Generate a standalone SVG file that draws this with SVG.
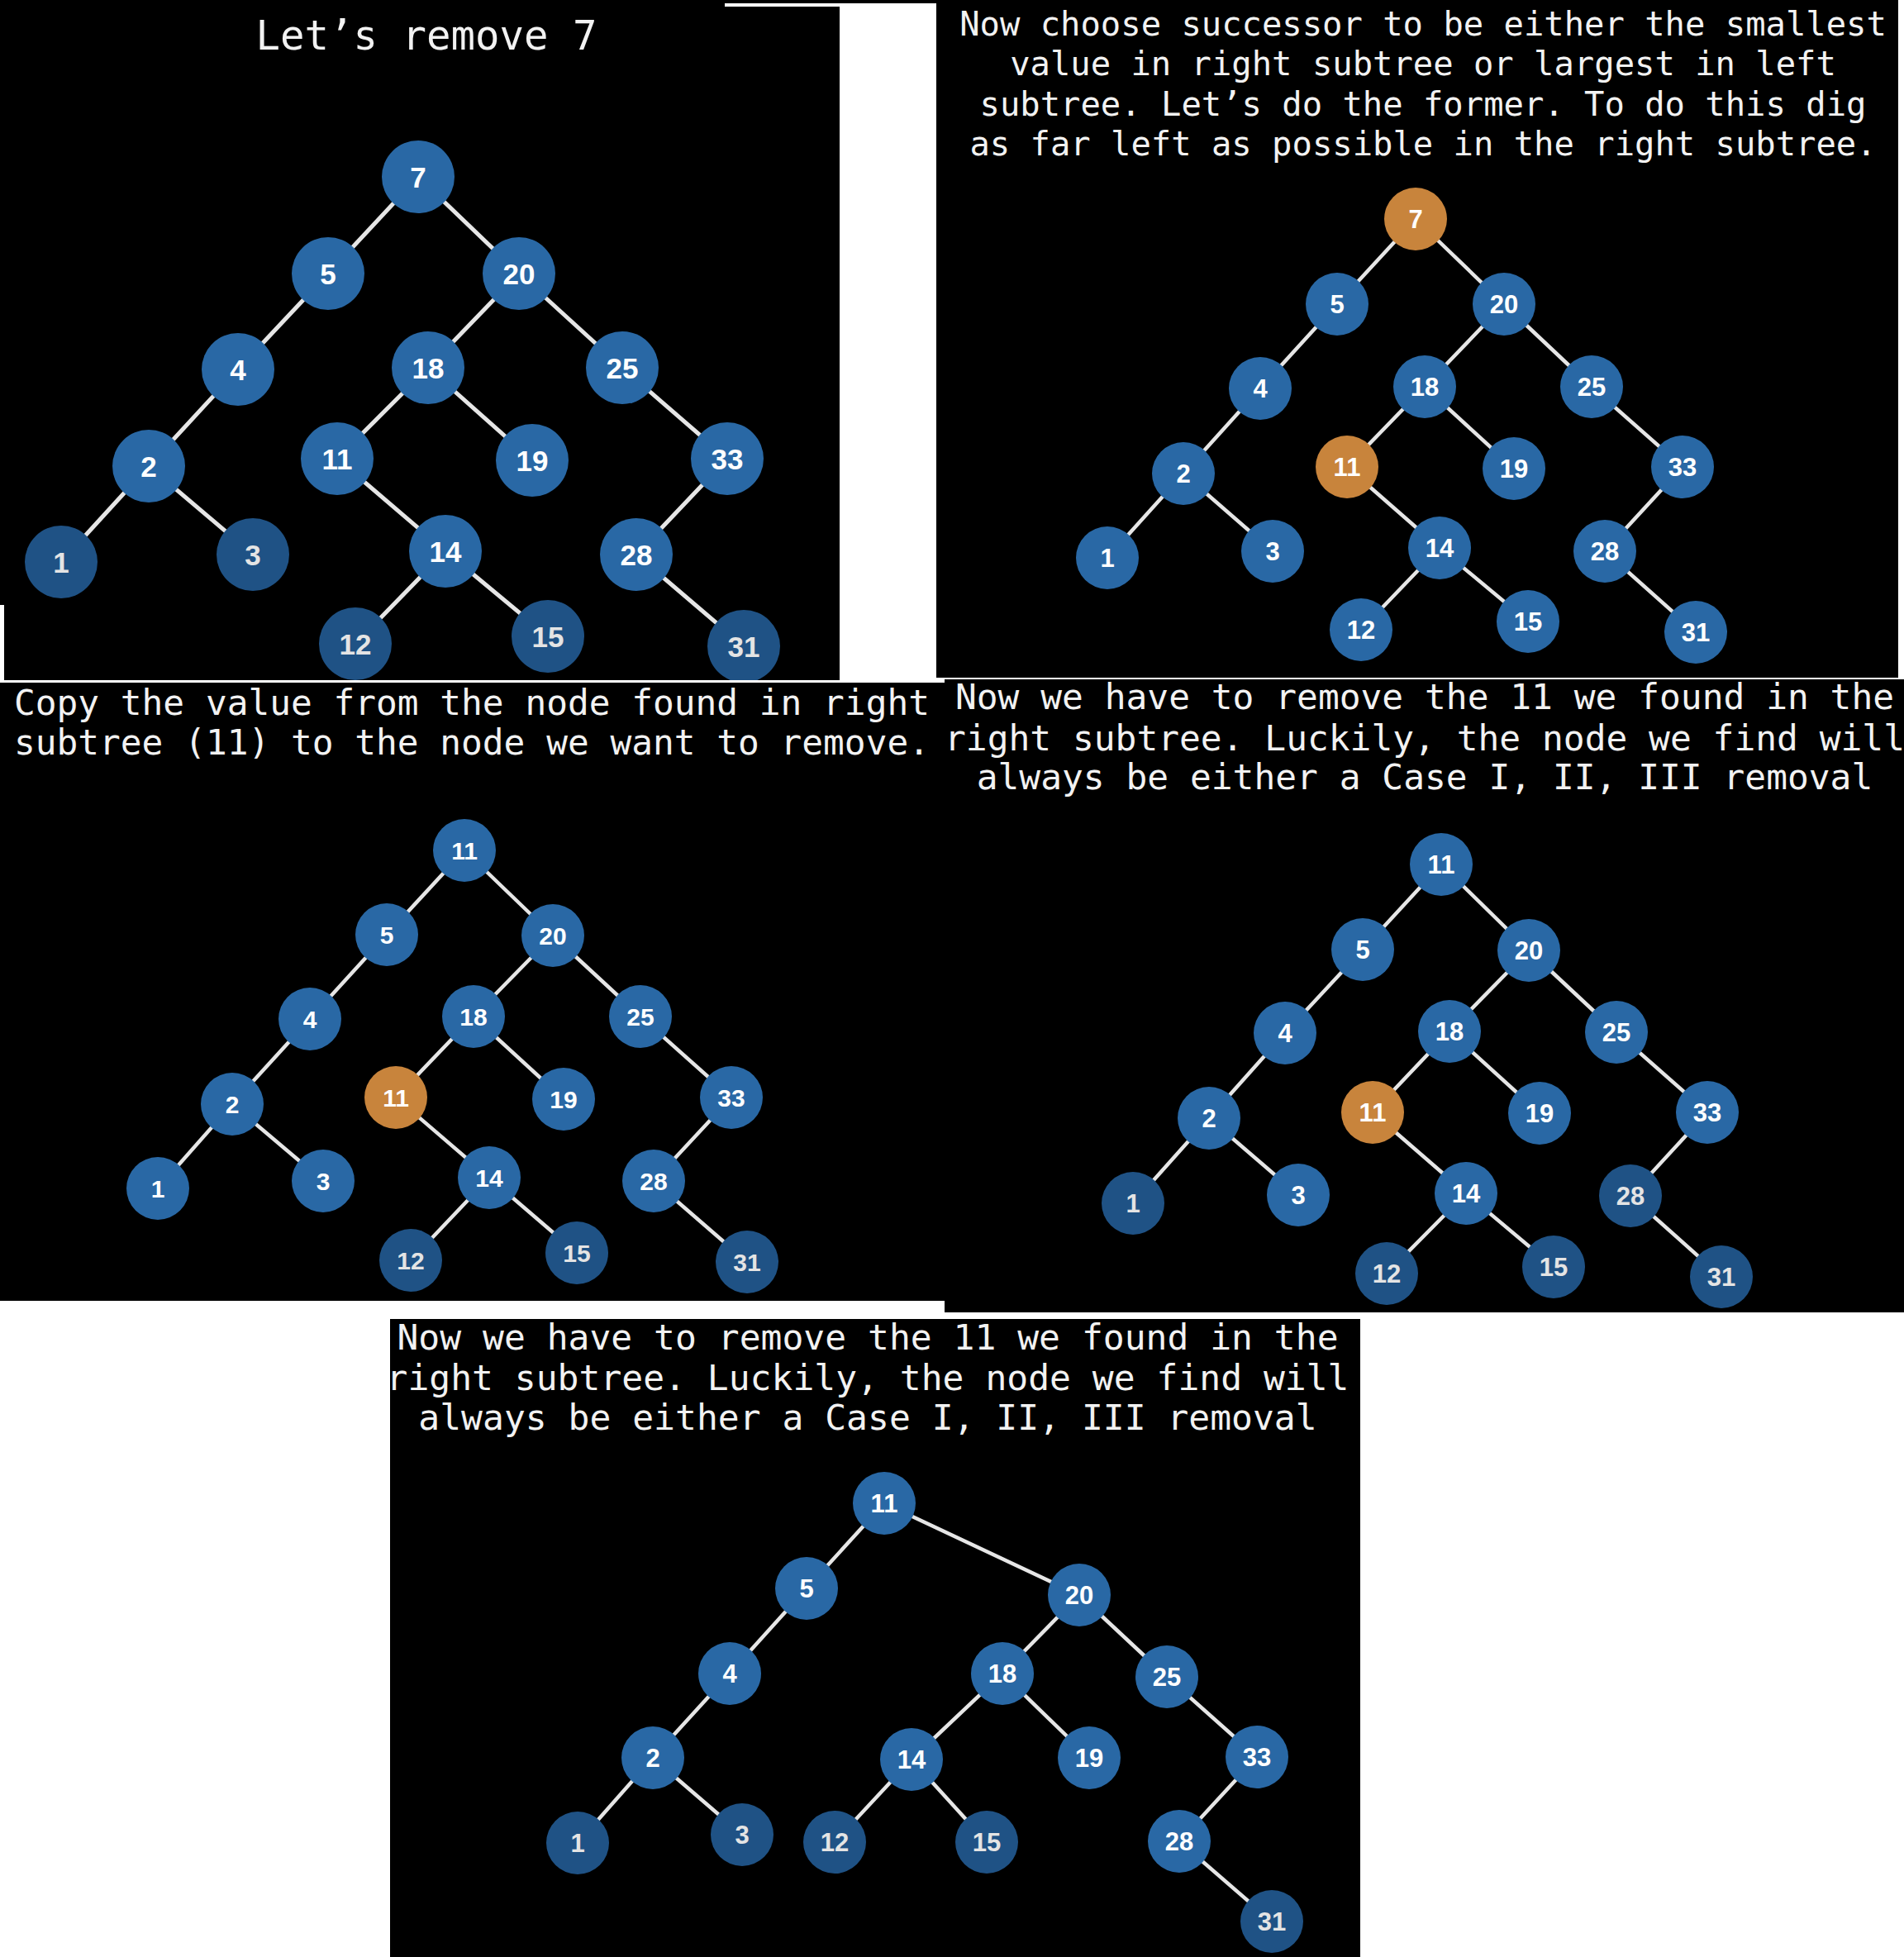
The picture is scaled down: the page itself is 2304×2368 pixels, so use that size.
<svg xmlns="http://www.w3.org/2000/svg" width="2304" height="2368" viewBox="0 0 2304 2368">
<style>
.bg{fill:#000}
.wh{fill:#fff}
.edges line{stroke:#e6e6e6;stroke-width:4.5;stroke-linecap:round}
.p1 .edges line{stroke-width:5}
.node circle{fill:#2968a5}
.node.dark circle{fill:#1f5285}
.node.hl circle{fill:#c8843c}
.node text{font-family:"Liberation Sans",Arial,sans-serif;font-weight:bold;fill:#fff;text-anchor:middle;font-size:31px}
.node.dark text{fill:#e4e4e4}
.p1 .node text{font-size:35px}
.p3 .node text{font-size:30px}
.title{font-family:"DejaVu Sans Mono","Liberation Mono",monospace;fill:#f2f2f2}
.c{text-anchor:middle}
</style>
<defs>
<clipPath id="cp1"><rect x="0" y="0" width="1016" height="823"/></clipPath>
<clipPath id="cp2"><rect x="1133" y="0" width="1164" height="820"/></clipPath>
<clipPath id="cp3"><rect x="0" y="826" width="1143" height="748"/></clipPath>
<clipPath id="cp4"><rect x="1143" y="822" width="1161" height="766"/></clipPath>
<clipPath id="cp5"><rect x="472" y="1596" width="1174" height="772"/></clipPath>
</defs>
<rect class="wh" x="0" y="0" width="2304" height="2368"/>

<!-- Panel 1 -->
<g id="panel1" class="p1" clip-path="url(#cp1)">
<rect class="bg" x="0" y="0" width="1016" height="823"/>
<rect class="wh" x="0" y="732" width="5" height="91"/>
<rect class="wh" x="877" y="4" width="139" height="4"/>
<text class="title c" x="516" y="60" font-size="49">Let’s remove 7</text>
<g id="p1-edges" class="edges">
<line x1="506" y1="214" x2="397" y2="331"/>
<line x1="506" y1="214" x2="628" y2="331"/>
<line x1="397" y1="331" x2="288" y2="447"/>
<line x1="288" y1="447" x2="180" y2="564"/>
<line x1="180" y1="564" x2="74" y2="680"/>
<line x1="180" y1="564" x2="306" y2="671"/>
<line x1="628" y1="331" x2="518" y2="445"/>
<line x1="628" y1="331" x2="753" y2="445"/>
<line x1="518" y1="445" x2="408" y2="555"/>
<line x1="518" y1="445" x2="644" y2="557"/>
<line x1="408" y1="555" x2="539" y2="667"/>
<line x1="539" y1="667" x2="430" y2="779"/>
<line x1="539" y1="667" x2="663" y2="770"/>
<line x1="753" y1="445" x2="880" y2="555"/>
<line x1="880" y1="555" x2="770" y2="671"/>
<line x1="770" y1="671" x2="900" y2="782"/>
</g>
<g id="p1-n7" class="node"><circle cx="506" cy="214" r="44"/><text x="506" y="227">7</text></g>
<g id="p1-n5" class="node"><circle cx="397" cy="331" r="44"/><text x="397" y="344">5</text></g>
<g id="p1-n20" class="node"><circle cx="628" cy="331" r="44"/><text x="628" y="344">20</text></g>
<g id="p1-n4" class="node"><circle cx="288" cy="447" r="44"/><text x="288" y="460">4</text></g>
<g id="p1-n18" class="node"><circle cx="518" cy="445" r="44"/><text x="518" y="458">18</text></g>
<g id="p1-n25" class="node"><circle cx="753" cy="445" r="44"/><text x="753" y="458">25</text></g>
<g id="p1-n2" class="node"><circle cx="180" cy="564" r="44"/><text x="180" y="577">2</text></g>
<g id="p1-n11" class="node"><circle cx="408" cy="555" r="44"/><text x="408" y="568">11</text></g>
<g id="p1-n19" class="node"><circle cx="644" cy="557" r="44"/><text x="644" y="570">19</text></g>
<g id="p1-n33" class="node"><circle cx="880" cy="555" r="44"/><text x="880" y="568">33</text></g>
<g id="p1-n1" class="node dark"><circle cx="74" cy="680" r="44"/><text x="74" y="693">1</text></g>
<g id="p1-n3" class="node dark"><circle cx="306" cy="671" r="44"/><text x="306" y="684">3</text></g>
<g id="p1-n14" class="node"><circle cx="539" cy="667" r="44"/><text x="539" y="680">14</text></g>
<g id="p1-n28" class="node"><circle cx="770" cy="671" r="44"/><text x="770" y="684">28</text></g>
<g id="p1-n12" class="node dark"><circle cx="430" cy="779" r="44"/><text x="430" y="792">12</text></g>
<g id="p1-n15" class="node dark"><circle cx="663" cy="770" r="44"/><text x="663" y="783">15</text></g>
<g id="p1-n31" class="node dark"><circle cx="900" cy="782" r="44"/><text x="900" y="795">31</text></g>
</g>
<rect class="bg" x="882" y="0" width="1415" height="4"/>

<!-- Panel 2 -->
<g id="panel2" class="p2" clip-path="url(#cp2)">
<rect class="bg" x="1133" y="0" width="1164" height="820"/>
<text class="title c" font-size="40.5"><tspan x="1722" y="43">Now choose successor to be either the smallest</tspan><tspan x="1722" y="91">value in right subtree or largest in left</tspan><tspan x="1722" y="140">subtree. Let’s do the former. To do this dig</tspan><tspan x="1722" y="188">as far left as possible in the right subtree.</tspan></text>
<g id="p2-edges" class="edges">
<line x1="1713" y1="265" x2="1618" y2="368"/>
<line x1="1713" y1="265" x2="1820" y2="368"/>
<line x1="1618" y1="368" x2="1525" y2="470"/>
<line x1="1525" y1="470" x2="1432" y2="573"/>
<line x1="1432" y1="573" x2="1340" y2="675"/>
<line x1="1432" y1="573" x2="1540" y2="667"/>
<line x1="1820" y1="368" x2="1724" y2="468"/>
<line x1="1820" y1="368" x2="1926" y2="468"/>
<line x1="1724" y1="468" x2="1630" y2="565"/>
<line x1="1724" y1="468" x2="1832" y2="567"/>
<line x1="1630" y1="565" x2="1742" y2="663"/>
<line x1="1742" y1="663" x2="1647" y2="762"/>
<line x1="1742" y1="663" x2="1849" y2="752"/>
<line x1="1926" y1="468" x2="2036" y2="565"/>
<line x1="2036" y1="565" x2="1942" y2="667"/>
<line x1="1942" y1="667" x2="2052" y2="765"/>
</g>
<g id="p2-n7" class="node hl"><circle cx="1713" cy="265" r="38"/><text x="1713" y="276">7</text></g>
<g id="p2-n5" class="node"><circle cx="1618" cy="368" r="38"/><text x="1618" y="379">5</text></g>
<g id="p2-n20" class="node"><circle cx="1820" cy="368" r="38"/><text x="1820" y="379">20</text></g>
<g id="p2-n4" class="node"><circle cx="1525" cy="470" r="38"/><text x="1525" y="481">4</text></g>
<g id="p2-n18" class="node"><circle cx="1724" cy="468" r="38"/><text x="1724" y="479">18</text></g>
<g id="p2-n25" class="node"><circle cx="1926" cy="468" r="38"/><text x="1926" y="479">25</text></g>
<g id="p2-n2" class="node"><circle cx="1432" cy="573" r="38"/><text x="1432" y="584">2</text></g>
<g id="p2-n11" class="node hl"><circle cx="1630" cy="565" r="38"/><text x="1630" y="576">11</text></g>
<g id="p2-n19" class="node"><circle cx="1832" cy="567" r="38"/><text x="1832" y="578">19</text></g>
<g id="p2-n33" class="node"><circle cx="2036" cy="565" r="38"/><text x="2036" y="576">33</text></g>
<g id="p2-n1" class="node"><circle cx="1340" cy="675" r="38"/><text x="1340" y="686">1</text></g>
<g id="p2-n3" class="node"><circle cx="1540" cy="667" r="38"/><text x="1540" y="678">3</text></g>
<g id="p2-n14" class="node"><circle cx="1742" cy="663" r="38"/><text x="1742" y="674">14</text></g>
<g id="p2-n28" class="node"><circle cx="1942" cy="667" r="38"/><text x="1942" y="678">28</text></g>
<g id="p2-n12" class="node"><circle cx="1647" cy="762" r="38"/><text x="1647" y="773">12</text></g>
<g id="p2-n15" class="node"><circle cx="1849" cy="752" r="38"/><text x="1849" y="763">15</text></g>
<g id="p2-n31" class="node"><circle cx="2052" cy="765" r="38"/><text x="2052" y="776">31</text></g>
</g>

<!-- Panel 3 -->
<g id="panel3" class="p3" clip-path="url(#cp3)">
<rect class="bg" x="0" y="826" width="1143" height="748"/>
<text class="title" font-size="42.8"><tspan x="17" y="865">Copy the value from the node found in right</tspan><tspan x="17" y="913">subtree (11) to the node we want to remove.</tspan></text>
<g id="p3-edges" class="edges">
<line x1="562" y1="1029" x2="468" y2="1131"/>
<line x1="562" y1="1029" x2="669" y2="1132"/>
<line x1="468" y1="1131" x2="375" y2="1233"/>
<line x1="375" y1="1233" x2="281" y2="1336"/>
<line x1="281" y1="1336" x2="191" y2="1438"/>
<line x1="281" y1="1336" x2="391" y2="1429"/>
<line x1="669" y1="1132" x2="573" y2="1230"/>
<line x1="669" y1="1132" x2="775" y2="1230"/>
<line x1="573" y1="1230" x2="479" y2="1328"/>
<line x1="573" y1="1230" x2="682" y2="1330"/>
<line x1="479" y1="1328" x2="592" y2="1425"/>
<line x1="592" y1="1425" x2="497" y2="1525"/>
<line x1="592" y1="1425" x2="698" y2="1516"/>
<line x1="775" y1="1230" x2="885" y2="1328"/>
<line x1="885" y1="1328" x2="791" y2="1429"/>
<line x1="791" y1="1429" x2="904" y2="1527"/>
</g>
<g id="p3-n11root" class="node"><circle cx="562" cy="1029" r="38"/><text x="562" y="1040">11</text></g>
<g id="p3-n5" class="node"><circle cx="468" cy="1131" r="38"/><text x="468" y="1142">5</text></g>
<g id="p3-n20" class="node"><circle cx="669" cy="1132" r="38"/><text x="669" y="1143">20</text></g>
<g id="p3-n4" class="node"><circle cx="375" cy="1233" r="38"/><text x="375" y="1244">4</text></g>
<g id="p3-n18" class="node"><circle cx="573" cy="1230" r="38"/><text x="573" y="1241">18</text></g>
<g id="p3-n25" class="node"><circle cx="775" cy="1230" r="38"/><text x="775" y="1241">25</text></g>
<g id="p3-n2" class="node"><circle cx="281" cy="1336" r="38"/><text x="281" y="1347">2</text></g>
<g id="p3-n11" class="node hl"><circle cx="479" cy="1328" r="38"/><text x="479" y="1339">11</text></g>
<g id="p3-n19" class="node"><circle cx="682" cy="1330" r="38"/><text x="682" y="1341">19</text></g>
<g id="p3-n33" class="node"><circle cx="885" cy="1328" r="38"/><text x="885" y="1339">33</text></g>
<g id="p3-n1" class="node"><circle cx="191" cy="1438" r="38"/><text x="191" y="1449">1</text></g>
<g id="p3-n3" class="node"><circle cx="391" cy="1429" r="38"/><text x="391" y="1440">3</text></g>
<g id="p3-n14" class="node"><circle cx="592" cy="1425" r="38"/><text x="592" y="1436">14</text></g>
<g id="p3-n28" class="node"><circle cx="791" cy="1429" r="38"/><text x="791" y="1440">28</text></g>
<g id="p3-n12" class="node dark"><circle cx="497" cy="1525" r="38"/><text x="497" y="1536">12</text></g>
<g id="p3-n15" class="node dark"><circle cx="698" cy="1516" r="38"/><text x="698" y="1527">15</text></g>
<g id="p3-n31" class="node dark"><circle cx="904" cy="1527" r="38"/><text x="904" y="1538">31</text></g>
</g>

<!-- Panel 4 -->
<g id="panel4" class="p4" clip-path="url(#cp4)">
<rect class="bg" x="1143" y="822" width="1161" height="766"/>
<text class="title c" font-size="42.9"><tspan x="1724" y="858">Now we have to remove the 11 we found in the</tspan><tspan x="1724" y="908">right subtree. Luckily, the node we find will</tspan><tspan x="1724" y="955">always be either a Case I, II, III removal</tspan></text>
<g id="p4-edges" class="edges">
<line x1="1744" y1="1046" x2="1649" y2="1149"/>
<line x1="1744" y1="1046" x2="1850" y2="1150"/>
<line x1="1649" y1="1149" x2="1555" y2="1250"/>
<line x1="1555" y1="1250" x2="1463" y2="1353"/>
<line x1="1463" y1="1353" x2="1371" y2="1456"/>
<line x1="1463" y1="1353" x2="1571" y2="1446"/>
<line x1="1850" y1="1150" x2="1754" y2="1248"/>
<line x1="1850" y1="1150" x2="1956" y2="1249"/>
<line x1="1754" y1="1248" x2="1661" y2="1346"/>
<line x1="1754" y1="1248" x2="1863" y2="1347"/>
<line x1="1661" y1="1346" x2="1774" y2="1444"/>
<line x1="1774" y1="1444" x2="1678" y2="1541"/>
<line x1="1774" y1="1444" x2="1880" y2="1533"/>
<line x1="1956" y1="1249" x2="2066" y2="1346"/>
<line x1="2066" y1="1346" x2="1973" y2="1447"/>
<line x1="1973" y1="1447" x2="2083" y2="1545"/>
</g>
<g id="p4-n11root" class="node"><circle cx="1744" cy="1046" r="38"/><text x="1744" y="1057">11</text></g>
<g id="p4-n5" class="node"><circle cx="1649" cy="1149" r="38"/><text x="1649" y="1160">5</text></g>
<g id="p4-n20" class="node"><circle cx="1850" cy="1150" r="38"/><text x="1850" y="1161">20</text></g>
<g id="p4-n4" class="node"><circle cx="1555" cy="1250" r="38"/><text x="1555" y="1261">4</text></g>
<g id="p4-n18" class="node"><circle cx="1754" cy="1248" r="38"/><text x="1754" y="1259">18</text></g>
<g id="p4-n25" class="node"><circle cx="1956" cy="1249" r="38"/><text x="1956" y="1260">25</text></g>
<g id="p4-n2" class="node"><circle cx="1463" cy="1353" r="38"/><text x="1463" y="1364">2</text></g>
<g id="p4-n11" class="node hl"><circle cx="1661" cy="1346" r="38"/><text x="1661" y="1357">11</text></g>
<g id="p4-n19" class="node"><circle cx="1863" cy="1347" r="38"/><text x="1863" y="1358">19</text></g>
<g id="p4-n33" class="node"><circle cx="2066" cy="1346" r="38"/><text x="2066" y="1357">33</text></g>
<g id="p4-n1" class="node dark"><circle cx="1371" cy="1456" r="38"/><text x="1371" y="1467">1</text></g>
<g id="p4-n3" class="node"><circle cx="1571" cy="1446" r="38"/><text x="1571" y="1457">3</text></g>
<g id="p4-n14" class="node"><circle cx="1774" cy="1444" r="38"/><text x="1774" y="1455">14</text></g>
<g id="p4-n28" class="node dark"><circle cx="1973" cy="1447" r="38"/><text x="1973" y="1458">28</text></g>
<g id="p4-n12" class="node dark"><circle cx="1678" cy="1541" r="38"/><text x="1678" y="1552">12</text></g>
<g id="p4-n15" class="node dark"><circle cx="1880" cy="1533" r="38"/><text x="1880" y="1544">15</text></g>
<g id="p4-n31" class="node dark"><circle cx="2083" cy="1545" r="38"/><text x="2083" y="1556">31</text></g>
</g>

<!-- Panel 5 -->
<g id="panel5" class="p5" clip-path="url(#cp5)">
<rect class="bg" x="472" y="1596" width="1174" height="772"/>
<text class="title c" font-size="43"><tspan x="1050" y="1633">Now we have to remove the 11 we found in the</tspan><tspan x="1050" y="1682">right subtree. Luckily, the node we find will</tspan><tspan x="1050" y="1730">always be either a Case I, II, III removal</tspan></text>
<g id="p5-edges" class="edges">
<line x1="1070" y1="1819" x2="976" y2="1922"/>
<line x1="1070" y1="1819" x2="1306" y2="1930"/>
<line x1="976" y1="1922" x2="883" y2="2025"/>
<line x1="883" y1="2025" x2="790" y2="2127"/>
<line x1="790" y1="2127" x2="699" y2="2230"/>
<line x1="790" y1="2127" x2="898" y2="2220"/>
<line x1="1306" y1="1930" x2="1213" y2="2025"/>
<line x1="1306" y1="1930" x2="1412" y2="2029"/>
<line x1="1213" y1="2025" x2="1103" y2="2129"/>
<line x1="1213" y1="2025" x2="1318" y2="2127"/>
<line x1="1103" y1="2129" x2="1010" y2="2229"/>
<line x1="1103" y1="2129" x2="1194" y2="2229"/>
<line x1="1412" y1="2029" x2="1521" y2="2126"/>
<line x1="1521" y1="2126" x2="1427" y2="2228"/>
<line x1="1427" y1="2228" x2="1539" y2="2325"/>
</g>
<g id="p5-n11" class="node"><circle cx="1070" cy="1819" r="38"/><text x="1070" y="1830">11</text></g>
<g id="p5-n5" class="node"><circle cx="976" cy="1922" r="38"/><text x="976" y="1933">5</text></g>
<g id="p5-n20" class="node"><circle cx="1306" cy="1930" r="38"/><text x="1306" y="1941">20</text></g>
<g id="p5-n4" class="node"><circle cx="883" cy="2025" r="38"/><text x="883" y="2036">4</text></g>
<g id="p5-n18" class="node"><circle cx="1213" cy="2025" r="38"/><text x="1213" y="2036">18</text></g>
<g id="p5-n25" class="node"><circle cx="1412" cy="2029" r="38"/><text x="1412" y="2040">25</text></g>
<g id="p5-n2" class="node"><circle cx="790" cy="2127" r="38"/><text x="790" y="2138">2</text></g>
<g id="p5-n14" class="node"><circle cx="1103" cy="2129" r="38"/><text x="1103" y="2140">14</text></g>
<g id="p5-n19" class="node"><circle cx="1318" cy="2127" r="38"/><text x="1318" y="2138">19</text></g>
<g id="p5-n33" class="node"><circle cx="1521" cy="2126" r="38"/><text x="1521" y="2137">33</text></g>
<g id="p5-n1" class="node dark"><circle cx="699" cy="2230" r="38"/><text x="699" y="2241">1</text></g>
<g id="p5-n3" class="node dark"><circle cx="898" cy="2220" r="38"/><text x="898" y="2231">3</text></g>
<g id="p5-n12" class="node dark"><circle cx="1010" cy="2229" r="38"/><text x="1010" y="2240">12</text></g>
<g id="p5-n15" class="node dark"><circle cx="1194" cy="2229" r="38"/><text x="1194" y="2240">15</text></g>
<g id="p5-n28" class="node"><circle cx="1427" cy="2228" r="38"/><text x="1427" y="2239">28</text></g>
<g id="p5-n31" class="node dark"><circle cx="1539" cy="2325" r="38"/><text x="1539" y="2336">31</text></g>
</g>
</svg>
